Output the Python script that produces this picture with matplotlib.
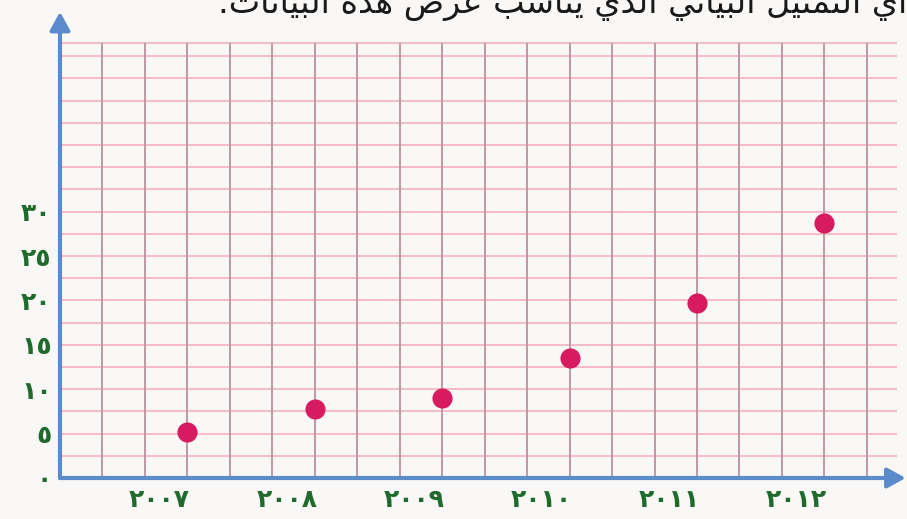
import matplotlib
matplotlib.use('Agg')
import numpy as np
import matplotlib.pyplot as plt
import matplotlib.transforms as mtransforms

# البيانات
years = [2007, 2008, 2009, 2010, 2011, 2012]
values = [5.2, 7.8, 9.0, 13.5, 19.7, 28.7]
year_labels = ['٢٠٠٧', '٢٠٠٨', '٢٠٠٩', '٢٠١٠', '٢٠١١', '٢٠١٢']
y_ticks = [0, 5, 10, 15, 20, 25, 30]
y_labels = ['٠', '٥', '١٠', '١٥', '٢٠', '٢٥', '٣٠']
title = 'أي التمثيل البياني الذي يناسب عرض هذه البيانات.'

# matplotlib does no Arabic shaping: pick the presentation forms by hand
# (isolated, final, initial, medial) - None = does not join to the next letter
FORMS = {
    'ا': (0xFE8D, 0xFE8E, None, None),
    'أ': (0xFE83, 0xFE84, None, None),
    'ب': (0xFE8F, 0xFE90, 0xFE91, 0xFE92),
    'ت': (0xFE95, 0xFE96, 0xFE97, 0xFE98),
    'ث': (0xFE99, 0xFE9A, 0xFE9B, 0xFE9C),
    'ذ': (0xFEAB, 0xFEAC, None, None),
    'ر': (0xFEAD, 0xFEAE, None, None),
    'س': (0xFEB1, 0xFEB2, 0xFEB3, 0xFEB4),
    'ض': (0xFEBD, 0xFEBE, 0xFEBF, 0xFEC0),
    'ع': (0xFEC9, 0xFECA, 0xFECB, 0xFECC),
    'ل': (0xFEDD, 0xFEDE, 0xFEDF, 0xFEE0),
    'م': (0xFEE1, 0xFEE2, 0xFEE3, 0xFEE4),
    'ن': (0xFEE5, 0xFEE6, 0xFEE7, 0xFEE8),
    'ه': (0xFEE9, 0xFEEA, 0xFEEB, 0xFEEC),
    'ي': (0xFEF1, 0xFEF2, 0xFEF3, 0xFEF4),
}


def shape(text):
    out = []
    for i, c in enumerate(text):
        if c not in FORMS:
            out.append(c)
            continue
        prev = text[i - 1] if i > 0 else ''
        nxt = text[i + 1] if i + 1 < len(text) else ''
        joins_prev = prev in FORMS and FORMS[prev][2] is not None
        joins_next = FORMS[c][2] is not None and nxt in FORMS
        f = FORMS[c]
        if joins_prev and joins_next:
            out.append(chr(f[3]))
        elif joins_prev:
            out.append(chr(f[1]))
        elif joins_next:
            out.append(chr(f[2]))
        else:
            out.append(chr(f[0]))
    return ''.join(out[::-1])


fig = plt.figure(figsize=(9.07, 5.19), dpi=100, facecolor='#f9f8f7')
ax = fig.add_axes([60 / 907, 41 / 519, 847 / 907, 478 / 519])
ax.set_facecolor('none')

x0 = 2006
xmax = x0 + 847 / 127.4
ymax = 478 / 8.88
ax.set_xlim(x0, xmax)
ax.set_ylim(0, ymax)

# ورق مربعات
grid_top = 49
grid_right = 2012.57
h_lines = np.append(np.arange(2.5, grid_top, 2.5), grid_top)
v_lines = x0 + np.arange(1, 20) / 3
ax.hlines(h_lines, x0, grid_right, color='#f3a9ba', lw=1.1, zorder=1)
ax.vlines(v_lines, 0, grid_top, color='#c098a8', lw=1.4, zorder=1)

ax.scatter(years, values, s=210, color='#d81b60', zorder=4, linewidths=0)

# axes with arrows
arrow = dict(arrowstyle='-|>,head_length=1.0,head_width=0.55', color='#5b8bcb',
             lw=3, shrinkA=0, shrinkB=0, mutation_scale=11)
ax.annotate('', xy=(xmax - 0.01, 0), xytext=(x0, 0), arrowprops=arrow,
            annotation_clip=False, zorder=3)
ax.annotate('', xy=(x0, 52.5), xytext=(x0, 0), arrowprops=arrow,
            annotation_clip=False, zorder=3)

for s in ax.spines.values():
    s.set_visible(False)

green = '#1f6b2c'
ax.set_yticks(y_ticks)
ax.set_yticklabels(y_labels, color=green, fontsize=18, fontweight='bold')
ax.set_xticks(years)
ax.set_xticklabels(year_labels, color=green, fontsize=18, fontweight='bold')
ax.tick_params(axis='both', length=0)
ax.tick_params(axis='y', pad=6)
ax.tick_params(axis='x', pad=7)
shift = mtransforms.ScaledTranslation(-0.28, 0, fig.dpi_scale_trans)
for lab in ax.get_xticklabels():
    lab.set_transform(lab.get_transform() + shift)

fig.text(1.0, 0.974, shape(title), ha='right', va='baseline',
         fontsize=24, color='#1a1a1a')

fig.savefig('out.png', dpi=100, facecolor=fig.get_facecolor())
